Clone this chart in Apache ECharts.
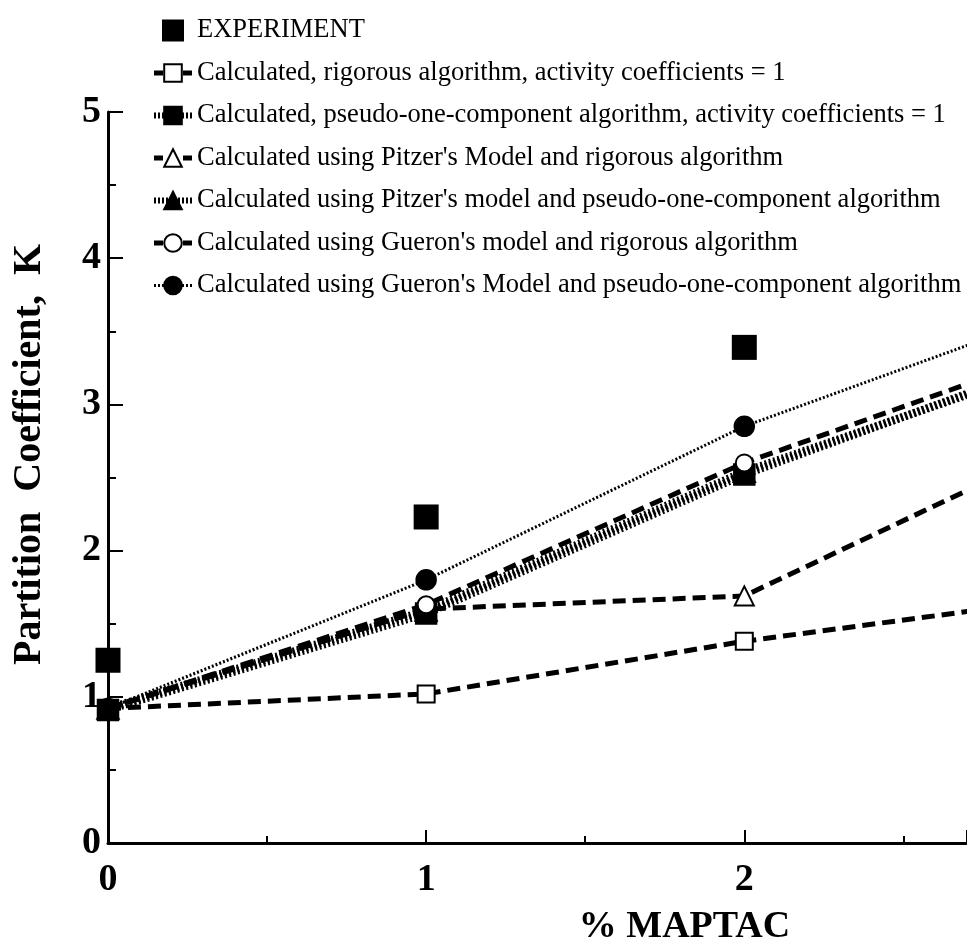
<!DOCTYPE html>
<html>
<head>
<meta charset="utf-8">
<title>Partition coefficient vs % MAPTAC</title>
<script src="https://cdn.jsdelivr.net/npm/echarts@6/dist/echarts.min.js"></script>
<style>
  html, body { margin: 0; padding: 0; background: #fff; }
  #chart { width: 967px; height: 951px; }
</style>
</head>
<body>
<div id="chart"></div>
<script>
// % MAPTAC values (the last one sits just past the cropped right edge)
const maptac = [0, 1, 2, 3];
const experiment = [1.25, 2.23, 3.39];
const rigorousIdeal = [0.92, 1.02, 1.38, 1.67];
const pseudoIdeal = [0.91, 1.57, 2.52, 3.31];
const pitzerRigorous = [0.92, 1.60, 1.69, 2.72];
const pitzerPseudo = [0.92, 1.59, 2.54, 3.29];
const gueronRigorous = [0.92, 1.63, 2.60, 3.37];
const gueronPseudo = [0.92, 1.80, 2.85, 3.64];

const names = [
  'EXPERIMENT',
  'Calculated, rigorous algorithm, activity coefficients = 1',
  'Calculated, pseudo-one-component algorithm, activity coefficients = 1',
  "Calculated using Pitzer's Model and rigorous algorithm",
  "Calculated using Pitzer's model and pseudo-one-component algorithm",
  "Calculated using Gueron's model and rigorous algorithm",
  "Calculated using Gueron's Model and pseudo-one-component algorithm"
];

const serif = '"Liberation Serif", "Times New Roman", serif';
const pairs = (ys) => ys.map((y, i) => [maptac[i], y]);

const dashed = { color: '#000', width: 5, type: [13, 7], cap: 'butt' };
const hatched = { color: '#000', width: 8, type: [2, 2.5], cap: 'butt' };
const dotted = { color: '#000', width: 3, type: [2, 2], cap: 'butt' };

// legend icons: short thick strokes like the printed key
const keyDash = { color: '#000', width: 5, type: [9, 20], cap: 'butt' };
const keyHatch = { color: '#000', width: 6, type: [2, 2], cap: 'butt' };
const keyDot = { color: '#000', width: 3, type: [2, 2], cap: 'butt' };

function lineSeries(name, ys, symbol, size, lineStyle) {
  return {
    name: name,
    type: 'line',
    data: pairs(ys),
    symbol: symbol,
    symbolSize: size,
    showAllSymbol: true,
    clip: true,
    lineStyle: lineStyle,
    itemStyle: { color: '#000', borderColor: '#000', borderWidth: 3.5 },
    emphasis: { disabled: true }
  };
}

const chart = echarts.init(document.getElementById('chart'));
chart.setOption({
  animation: false,
  backgroundColor: '#fff',
  grid: { left: 108, right: 0, top: 112, bottom: 108, outerBoundsMode: 'none' },
  legend: {
    orient: 'vertical',
    left: 146,
    top: 12,
    itemWidth: 38,
    itemHeight: 22,
    itemGap: 15.5,
    selectedMode: false,
    data: [
      { name: names[0], icon: 'path://M0,0H1V1H0Z' },
      { name: names[1], lineStyle: keyDash },
      { name: names[2], lineStyle: keyHatch },
      { name: names[3], lineStyle: keyDash },
      { name: names[4], lineStyle: keyHatch },
      { name: names[5], lineStyle: keyDash },
      { name: names[6], lineStyle: keyDot }
    ],
    textStyle: { fontFamily: serif, fontSize: 26.5, color: '#000', lineHeight: 27 }
  },
  xAxis: [
    {
      type: 'value',
      min: 0,
      max: 2.7,
      interval: 1,
      position: 'bottom',
      axisLine: { lineStyle: { color: '#000', width: 3 } },
      axisTick: { inside: true, length: 13, lineStyle: { color: '#000', width: 2 } },
      splitLine: { show: false },
      axisLabel: {
        margin: 18,
        fontFamily: serif,
        fontWeight: 'bold',
        fontSize: 38,
        color: '#000',
        formatter: (v) => (Number.isInteger(v) ? String(v) : '')
      },
      name: '% MAPTAC',
      nameLocation: 'middle',
      nameGap: 65,
      nameTextStyle: {
        fontFamily: serif, fontWeight: 'bold', fontSize: 38, color: '#000',
        padding: [0, 0, 0, 294]
      }
    },
    {
      type: 'value',
      min: 0,
      max: 2.7,
      interval: 0.5,
      position: 'bottom',
      axisLine: { show: false },
      axisTick: { inside: true, length: 7, lineStyle: { color: '#000', width: 2 } },
      axisLabel: { show: false },
      splitLine: { show: false }
    }
  ],
  yAxis: {
    type: 'value',
    min: 0,
    max: 5,
    interval: 1,
    axisLine: { show: true, lineStyle: { color: '#000', width: 3 } },
    axisTick: { show: true, inside: true, length: 15, lineStyle: { color: '#000', width: 2 } },
    minorTick: { show: true, splitNumber: 2, length: 8, lineStyle: { color: '#000', width: 2 } },
    splitLine: { show: false },
    minorSplitLine: { show: false },
    axisLabel: { margin: 7, fontFamily: serif, fontWeight: 'bold', fontSize: 38, color: '#000' },
    name: 'Partition  Coefficient,  K',
    nameLocation: 'middle',
    nameGap: 58,
    nameTextStyle: {
      fontFamily: serif, fontWeight: 'bold', fontSize: 40, color: '#000',
      padding: [0, 0, 0, 46]
    }
  },
  series: [
    {
      name: names[0],
      type: 'scatter',
      data: pairs(experiment),
      symbol: 'rect',
      symbolSize: 25,
      clip: false,
      itemStyle: { color: '#000', opacity: 1 },
      emphasis: { disabled: true }
    },
    lineSeries(names[1], rigorousIdeal, 'emptyRect', 17, dashed),
    lineSeries(names[3], pitzerRigorous, 'emptyTriangle', 19, dashed),
    lineSeries(names[4], pitzerPseudo, 'triangle', 19, hatched),
    lineSeries(names[2], pseudoIdeal, 'rect', 19, hatched),
    lineSeries(names[5], gueronRigorous, 'emptyCircle', 17, dashed),
    lineSeries(names[6], gueronPseudo, 'circle', 18, dotted)
  ]
});
</script>
</body>
</html>
